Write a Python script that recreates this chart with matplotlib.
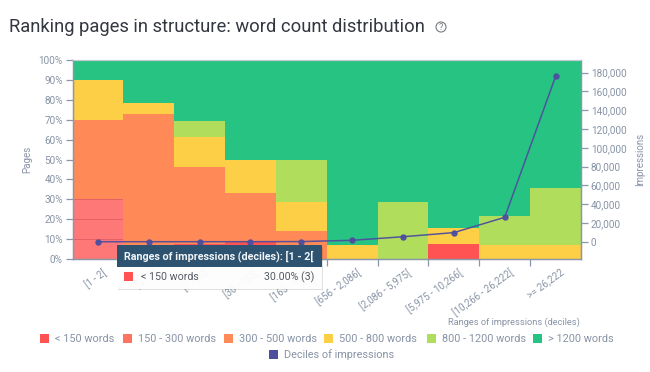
import numpy as np
import matplotlib
matplotlib.use('Agg')
import matplotlib.pyplot as plt
from matplotlib.patches import Rectangle, Circle

plt.rcParams['font.family'] = ['Roboto', 'DejaVu Sans']

deciles = ['[1 - 2[', '[2 - 7[', '[7 - 30[', '[30 - 163[', '[163 - 656[', '[656 - 2,086[',
           '[2,086 - 5,975[', '[5,975 - 10,266[', '[10,266 - 26,222[', '>= 26,222']

# share of pages per word count bucket, in %
under_150 = [30.0, 0, 7.7, 8.3, 0, 0, 0, 7.7, 0, 0]
w150_300 = [0, 0, 0, 0, 0, 0, 0, 0, 0, 0]
w300_500 = [40.0, 72.7, 38.5, 25.0, 14.3, 0, 0, 0, 0, 0]
w500_800 = [20.0, 5.5, 15.3, 16.7, 14.3, 7.1, 0, 7.7, 7.1, 7.1]
w800_1200 = [0, 0, 7.7, 0, 21.4, 0, 28.6, 0, 14.3, 28.6]
over_1200 = [10.0, 21.8, 30.8, 50.0, 50.0, 92.9, 71.4, 84.6, 78.6, 64.3]

impressions = [1, 2, 7, 30, 163, 1500, 5300, 9700, 26000, 176000]

series_names = ['< 150 words', '150 - 300 words', '300 - 500 words', '500 - 800 words',
                '800 - 1200 words', '> 1200 words']
colors = ['#ff5252', '#ff7360', '#ff8a57', '#fdcf46', '#b0de5c', '#27c382']
line_color = '#4e4e9e'
axis_color = '#8a97a8'
text_color = '#8793a5'

W, H = 650, 372
fig = plt.figure(figsize=(W / 100, H / 100), dpi=100)
left, right, top, bottom = 72.5, 581, 60, 259
ax = fig.add_axes([left / W, 1 - bottom / H, (right - left) / W, (bottom - top) / H])

x = np.arange(len(deciles))
ax.set_axisbelow(True)
ax.yaxis.grid(True, color='#8a97a8', lw=0.7)
base = np.zeros(len(x))
all_series = [under_150, w150_300, w300_500, w500_800, w800_1200, over_1200]
for vals, c in zip(all_series, colors):
    vals = np.array(vals)
    ax.bar(x, vals, width=1.0, bottom=base, color=c, linewidth=0)
    base = base + vals
# hovered segment
ax.patches[0].set_alpha(0.78)

ax.set_xlim(-0.5, 9.5)
ax.set_ylim(0, 100)
ax.set_yticks(range(0, 101, 10))
ax.set_yticklabels([f'{v}%' for v in range(0, 101, 10)], fontsize=7.2, color=text_color)
ax.set_xticks(x[:-1] + 0.5)
ax.set_xticklabels([])
ax.tick_params(axis='y', color=axis_color, length=5, width=0.9, pad=2)
ax.tick_params(axis='x', color=axis_color, length=5, width=0.9)
ax.set_ylabel('Pages', fontsize=7, color=text_color)
ax.yaxis.set_label_coords(-0.079, 0.5)

for i, lab in enumerate(deciles):
    ax.annotate(lab, xy=(i, 0), xycoords=('data', 'axes fraction'), xytext=(3, -6),
                textcoords='offset points', rotation=36, ha='right', va='top',
                rotation_mode='anchor', fontsize=7, color=text_color)

ax2 = ax.twinx()
ax2.plot(x, impressions, color=line_color, lw=1.1, marker='o', ms=3.6, alpha=0.95, zorder=5)
ax2.set_ylim(-18400, 193500)
ax2.set_yticks(range(0, 180001, 20000))
ax2.set_yticklabels([f'{v:,}' for v in range(0, 180001, 20000)], fontsize=7.2, color=text_color)
ax2.tick_params(axis='y', color=axis_color, length=5, width=0.9, pad=2)
ax2.set_ylabel('Impressions', fontsize=7, color=text_color)
ax2.yaxis.set_label_coords(1.106, 0.5)

for a in (ax, ax2):
    for side in ('left', 'right', 'bottom'):
        a.spines[side].set_color(axis_color)
        a.spines[side].set_linewidth(0.9)
    a.spines['top'].set_color('#c3cad3')

# overlay in pixel coordinates for title, legend and tooltip
ov = fig.add_axes([0, 0, 1, 1], zorder=10)
ov.set_xlim(0, W)
ov.set_ylim(H, 0)
ov.axis('off')
ov.patch.set_alpha(0)

ov.text(9, 26.5, 'Ranking pages in structure: word count distribution', fontsize=13.2,
        color='#333740', va='center', ha='left')
ov.add_patch(Circle((441, 27), 5, fill=False, ec='#777b80', lw=0.8))
ov.text(441, 27.2, '?', fontsize=6.5, color='#777b80', ha='center', va='center')

ov.text(580, 322, 'Ranges of impressions (deciles)', fontsize=6.7, color=text_color,
        ha='right', va='center')

legend_x = [40, 122.5, 224, 324, 427, 533]
for lx, name, c in zip(legend_x, series_names, colors):
    ov.add_patch(Rectangle((lx, 333.5), 9, 9, color=c, lw=0))
    ov.text(lx + 15, 338.5, name, fontsize=7.85, color=text_color, va='center')
ov.add_patch(Rectangle((269, 349.5), 9, 9, color=line_color, lw=0))
ov.text(284, 354.5, 'Deciles of impressions', fontsize=7.85, color=text_color, va='center')

# tooltip
ov.add_patch(Rectangle((118, 247), 205, 43, color='#000000', alpha=0.12, lw=0))
ov.add_patch(Rectangle((117, 267), 205, 22, color='white', alpha=0.95, lw=0))
ov.add_patch(Rectangle((117, 245), 205, 22, color='#2d5370', lw=0))
ov.text(124, 256, 'Ranges of impressions (deciles): [1 - 2[', fontsize=7.75, color='#f2f5f7',
        fontweight='bold', va='center')
ov.add_patch(Rectangle((124, 272), 9, 9, color=colors[0], lw=0))
ov.text(141, 277, '< 150 words', fontsize=7.7, color='#555a63', va='center')
ov.text(314, 277, '30.00% (3)', fontsize=7.7, color='#555a63', va='center', ha='right')

fig.savefig('out.png', dpi=100)
